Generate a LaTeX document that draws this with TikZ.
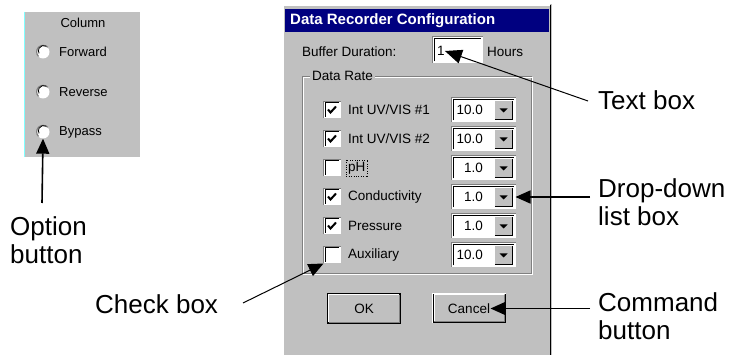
\documentclass[tikz,border=0pt]{standalone}
\usepackage{fontspec}
\setmainfont{Liberation Sans}
\usetikzlibrary{positioning,arrows.meta}

\definecolor{winface}{RGB}{192,192,192}
\definecolor{winshadow}{RGB}{128,128,128}
\definecolor{wintitle}{RGB}{0,0,128}
\definecolor{panelcyan}{RGB}{128,255,255}

\tikzset{
  gui/.style={font=\fontsize{13.5}{15}\selectfont, inner sep=0pt},
  callout/.style={font=\fontsize{26}{28}\selectfont, inner sep=0pt, anchor=west, align=left},
  pointer/.style={-{Triangle[length=15pt,width=13pt]}, line width=1.6pt},
  sunken/.style={fill=white, draw=white, line width=1pt, inner sep=0pt},
  raised/.style={fill=winface, draw=black, line width=1pt, inner sep=0pt}
}

\begin{document}
\begin{tikzpicture}[x=1pt,y=-1pt]
  \useasboundingbox (0,0) rectangle (739,355);

  % option panel
  \fill[winface] (24,12) rectangle (140,157);
  \draw[panelcyan, line width=1pt] (24.5,12) -- (24.5,157);
  \node[gui, font=\fontsize{13}{15}\selectfont] (coltitle) at (83,23) {Column};
  \foreach \j/\y/\opt in {fwd/52/Forward, rev/92/Reverse, byp/132/Bypass} {
    \node[circle, fill=white, minimum size=13pt, inner sep=0pt] (r\j) at (43,\y) {};
    \draw[winshadow, line width=1.2pt] (r\j.45) arc[start angle=45, end angle=225, radius=6.5pt];
    \draw[black, line width=0.8pt] (r\j.60) arc[start angle=60, end angle=210, radius=5.3pt];
    \node[gui, font=\fontsize{13}{15}\selectfont, anchor=west] (o\j) at (59,\y) {\opt};
  }

  % dialog frame
  \fill[winface] (282,4) rectangle (552,355);
  \draw[white, line width=1.5pt] (283,355) -- (283,5) -- (550,5);
  \draw[black, line width=1.5pt] (550.5,5) -- (550.5,355);
  \fill[wintitle] (285,9) rectangle (549,32);
  \node[gui, anchor=west, text=white, font=\bfseries\fontsize{15}{17}\selectfont] (title) at (290,20.5) {Data Recorder Configuration};

  % buffer duration
  \node[gui, anchor=west] (buflbl) at (302,52) {Buffer Duration:};
  \node[sunken, minimum width=49pt, minimum height=25pt] (txtbox) at (457.5,50) {};
  \draw[winshadow, line width=1pt] (txtbox.south west) |- (txtbox.north east);
  \draw[black, line width=1pt] ([shift={(1.5,-1.5)}]txtbox.south west) |- ([shift={(-1.5,1.5)}]txtbox.north east);
  \node[gui, anchor=west] (bufval) at (437,51) {1};
  \node[gui, anchor=west] (hourslbl) at (487,52) {Hours};

  % data rate group
  \draw[winshadow] (302,76) rectangle (531,273);
  \draw[white] (303,77) rectangle (532,274);
  \node[gui, anchor=west, fill=winface, inner xsep=2pt] (ratelbl) at (310,76) {Data Rate};

  \foreach \i/\y/\name/\chk/\rate in {1/110/{Int UV/VIS \#1}/1/10.0, 2/139/{Int UV/VIS \#2}/1/10.0,
      3/168/pH/0/1.0, 4/197/Conductivity/1/1.0, 5/226/Pressure/1/1.0, 6/255/Auxiliary/0/10.0} {
    \node[sunken, minimum size=16pt] (cb\i) at (332,\y) {};
    \draw[winshadow, line width=1pt] (cb\i.south west) |- (cb\i.north east);
    \draw[black, line width=1pt] ([shift={(1.5,-1.5)}]cb\i.south west) |- ([shift={(-1.5,1.5)}]cb\i.north east);
    \ifnum\chk=1
      \draw[line width=2pt] ([shift={(-4,-0.5)}]cb\i.center) -- ([shift={(-1.5,2.5)}]cb\i.center) -- ([shift={(4,-3.5)}]cb\i.center);
    \fi
    \node[gui, anchor=west] (lb\i) at (348,\y) {\name};
    \node[sunken, minimum width=63pt, minimum height=23pt] (dd\i) at (483.5,\y) {};
    \draw[winshadow, line width=1pt] (dd\i.south west) |- (dd\i.north east);
    \draw[black, line width=1pt] ([shift={(1.5,-1.5)}]dd\i.south west) |- ([shift={(-1.5,1.5)}]dd\i.north east);
    \node[fill=winface, minimum width=17pt, minimum height=18pt, inner sep=0pt] (db\i) at (503.5,\y) {};
    \draw[black, line width=1pt] (db\i.south west) -| (db\i.north east);
    \draw[white, line width=1pt] (db\i.south west) |- (db\i.north east);
    \fill ([shift={(-4,-1.5)}]db\i.center) -- ([shift={(4,-1.5)}]db\i.center) -- ([shift={(0,2.5)}]db\i.center) -- cycle;
    \node[gui, anchor=east] (rv\i) at (483,\y) {\rate};
  }
  \draw[dotted] ([shift={(-2,-2)}]lb3.north west) rectangle ([shift={(2,2)}]lb3.south east);

  % command buttons
  \node[raised, gui, minimum width=72pt, minimum height=29pt, line width=1.5pt] (okbtn) at (364,308.5) {OK};
  \node[raised, gui, minimum width=72pt, minimum height=29pt] (cancel) at (469,308.5) {Cancel};
  \foreach \b in {okbtn,cancel} {
    \draw[white, line width=1pt] ([shift={(1.5,-1.5)}]\b.south west) |- ([shift={(-1.5,1.5)}]\b.north east);
    \draw[winshadow, line width=1pt] ([shift={(1.5,-1.5)}]\b.south west) -| ([shift={(-1.5,1.5)}]\b.north east);
  }
  \draw[white, line width=1pt] (cancel.south west) |- (cancel.north east);

  % callouts
  \node[callout] (optlbl) at (10,240) {Option\\button};
  \node[callout] (chklbl) at (95,304) {Check box};
  \node[callout] (txtlbl) at (598,100) {Text box};
  \node[callout] (ddlbl) at (598,202) {Drop-down\\list box};
  \node[callout] (cmdlbl) at (598,316) {Command\\button};

  \coordinate (optfrom) at (42,203);
  \coordinate (chkfrom) at (243,303);
  \coordinate (txtfrom) at (588,101);
  \coordinate (ddfrom) at (590,197);
  \coordinate (cmdfrom) at (590,308.5);

  \draw[pointer] (optfrom) -- (rbyp.south);
  \draw[pointer, line width=1pt] (chkfrom) -- (cb6.south west);
  \draw[-{Triangle[length=17pt,width=14pt]}, line width=1pt] (txtfrom) -- (bufval.east);
  \draw[pointer] (ddfrom) -- (dd4.east);
  \draw[pointer, shorten >=-15pt] (cmdfrom) -- (cancel.east);
\end{tikzpicture}
\end{document}
